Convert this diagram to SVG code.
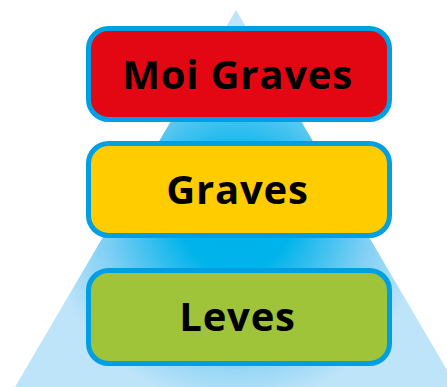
<svg xmlns="http://www.w3.org/2000/svg" width="447" height="387" viewBox="0 0 447 387">
<defs>
<radialGradient id="glow" cx="236" cy="215" r="190" gradientUnits="userSpaceOnUse">
<stop offset="0" stop-color="#00aee9"/>
<stop offset="0.3" stop-color="#00b4eb"/>
<stop offset="0.7" stop-color="#80cff4"/>
<stop offset="1" stop-color="#bee4f9"/>
</radialGradient>
<style>
.box{stroke:#009fe3;stroke-width:5}
.lbl{font-family:"Open Sans","DejaVu Sans",sans-serif;font-weight:bold;font-size:40px;letter-spacing:0.8px;fill:#000;text-anchor:middle}
</style>
</defs>
<g id="pyramid">
<polygon points="236,10 15,387 457,387" fill="url(#glow)"/>
</g>
<g id="connectors"></g>
<g id="node-moi-graves">
<rect class="box" x="88.5" y="28.5" width="301" height="91" rx="20" fill="#e30613"/>
<text class="lbl" x="237.5" y="89">Moi Graves</text>
</g>
<g id="node-graves">
<rect class="box" x="88.5" y="143.5" width="301" height="92" rx="20" fill="#ffcc00"/>
<text class="lbl" x="237.5" y="204">Graves</text>
</g>
<g id="node-leves">
<rect class="box" x="88.5" y="270.5" width="301" height="93" rx="20" fill="#9fc43a"/>
<text class="lbl" x="237.5" y="331">Leves</text>
</g>
</svg>
